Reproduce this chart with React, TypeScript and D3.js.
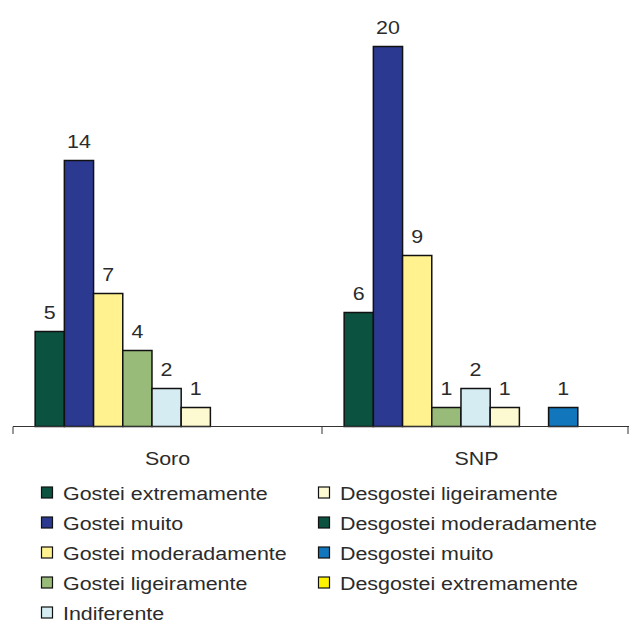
import { useEffect, useRef } from 'react';
import * as d3 from 'd3';

const categories = ['Soro', 'SNP'];
const seriesNames = [
  'Gostei extremamente',
  'Gostei muito',
  'Gostei moderadamente',
  'Gostei ligeiramente',
  'Indiferente',
  'Desgostei ligeiramente',
  'Desgostei moderadamente',
  'Desgostei muito',
  'Desgostei extremamente',
];
const soroValues = [5, 14, 7, 4, 2, 1, 0, 0, 0];
const snpValues = [6, 20, 9, 1, 2, 1, 0, 1, 0];
const colors = [
  '#0b5241',
  '#2b3990',
  '#fff28f',
  '#98bb7a',
  '#d5ecf3',
  '#fdf9d0',
  '#0b5241',
  '#1176bb',
  '#fff200',
];

const FONT = '"Liberation Sans", Arial, sans-serif';
const SX = 1.19; // the original lettering is wide

export default function App() {
  const ref = useRef<SVGSVGElement | null>(null);
  const width = 629;
  const height = 626;

  useEffect(() => {
    const svg = d3.select(ref.current);
    svg.selectAll('*').remove();

    const label = (x: number, y: number, txt: string | number, anchor = 'middle') =>
      svg
        .append('text')
        .attr('transform', `translate(${x},${y}) scale(${SX},1)`)
        .attr('text-anchor', anchor)
        .attr('font-family', FONT)
        .attr('font-size', 18)
        .attr('fill', '#2b2b2b')
        .text(txt);

    const values = [soroValues, snpValues];
    const baseline = 426.5;

    const x0 = d3.scaleBand<string>().domain(categories).range([13, 631]);
    const x1 = d3
      .scaleBand<string>()
      .domain(seriesNames)
      .range([0, x0.bandwidth()])
      .paddingInner(0)
      .paddingOuter(0.79)
      .align(0.48);
    const y = d3.scaleLinear().domain([0, 20]).range([baseline, 46.5]);

    categories.forEach((cat, ci) => {
      const g = svg.append('g').attr('transform', `translate(${x0(cat)},0)`);
      seriesNames.forEach((s, si) => {
        const v = values[ci][si];
        if (!v) return;
        g.append('rect')
          .attr('x', x1(s)!)
          .attr('y', y(v))
          .attr('width', x1.bandwidth())
          .attr('height', baseline - y(v))
          .attr('fill', colors[si])
          .attr('stroke', '#111')
          .attr('stroke-width', 1.5);
        label(x0(cat)! + x1(s)! + x1.bandwidth() / 2, y(v) - 13, v);
      });
      label(x0(cat)! + x0.bandwidth() / 2, 465, cat);
    });

    // axis
    const [r0, r1] = x0.range();
    svg
      .append('line')
      .attr('x1', r0)
      .attr('x2', r1 - 2)
      .attr('y1', baseline)
      .attr('y2', baseline)
      .attr('stroke', '#333')
      .attr('stroke-width', 1);
    const tickXs = [r0, ...categories.slice(1).map(c => x0(c)!), r1 - 3];
    tickXs.forEach(tx => {
      svg
        .append('line')
        .attr('x1', tx)
        .attr('x2', tx)
        .attr('y1', baseline)
        .attr('y2', baseline + 7.5)
        .attr('stroke', '#333')
        .attr('stroke-width', 1);
    });

    // legend
    const perCol = 5;
    seriesNames.forEach((s, i) => {
      const col = Math.floor(i / perCol);
      const row = i % perCol;
      const lx = col === 0 ? 41.5 : 318.5;
      const ly = 493 + row * 30;
      svg
        .append('rect')
        .attr('x', lx)
        .attr('y', ly - 6)
        .attr('width', 11)
        .attr('height', 11)
        .attr('fill', colors[i])
        .attr('stroke', '#111')
        .attr('stroke-width', 1.2);
      label(lx + 21.5, ly + 7, s, 'start');
    });
  }, []);

  return (
    <svg
      ref={ref}
      width={width}
      height={height}
      style={{ position: 'absolute', left: 0, top: 0, background: '#fff' }}
    ></svg>
  );
}
